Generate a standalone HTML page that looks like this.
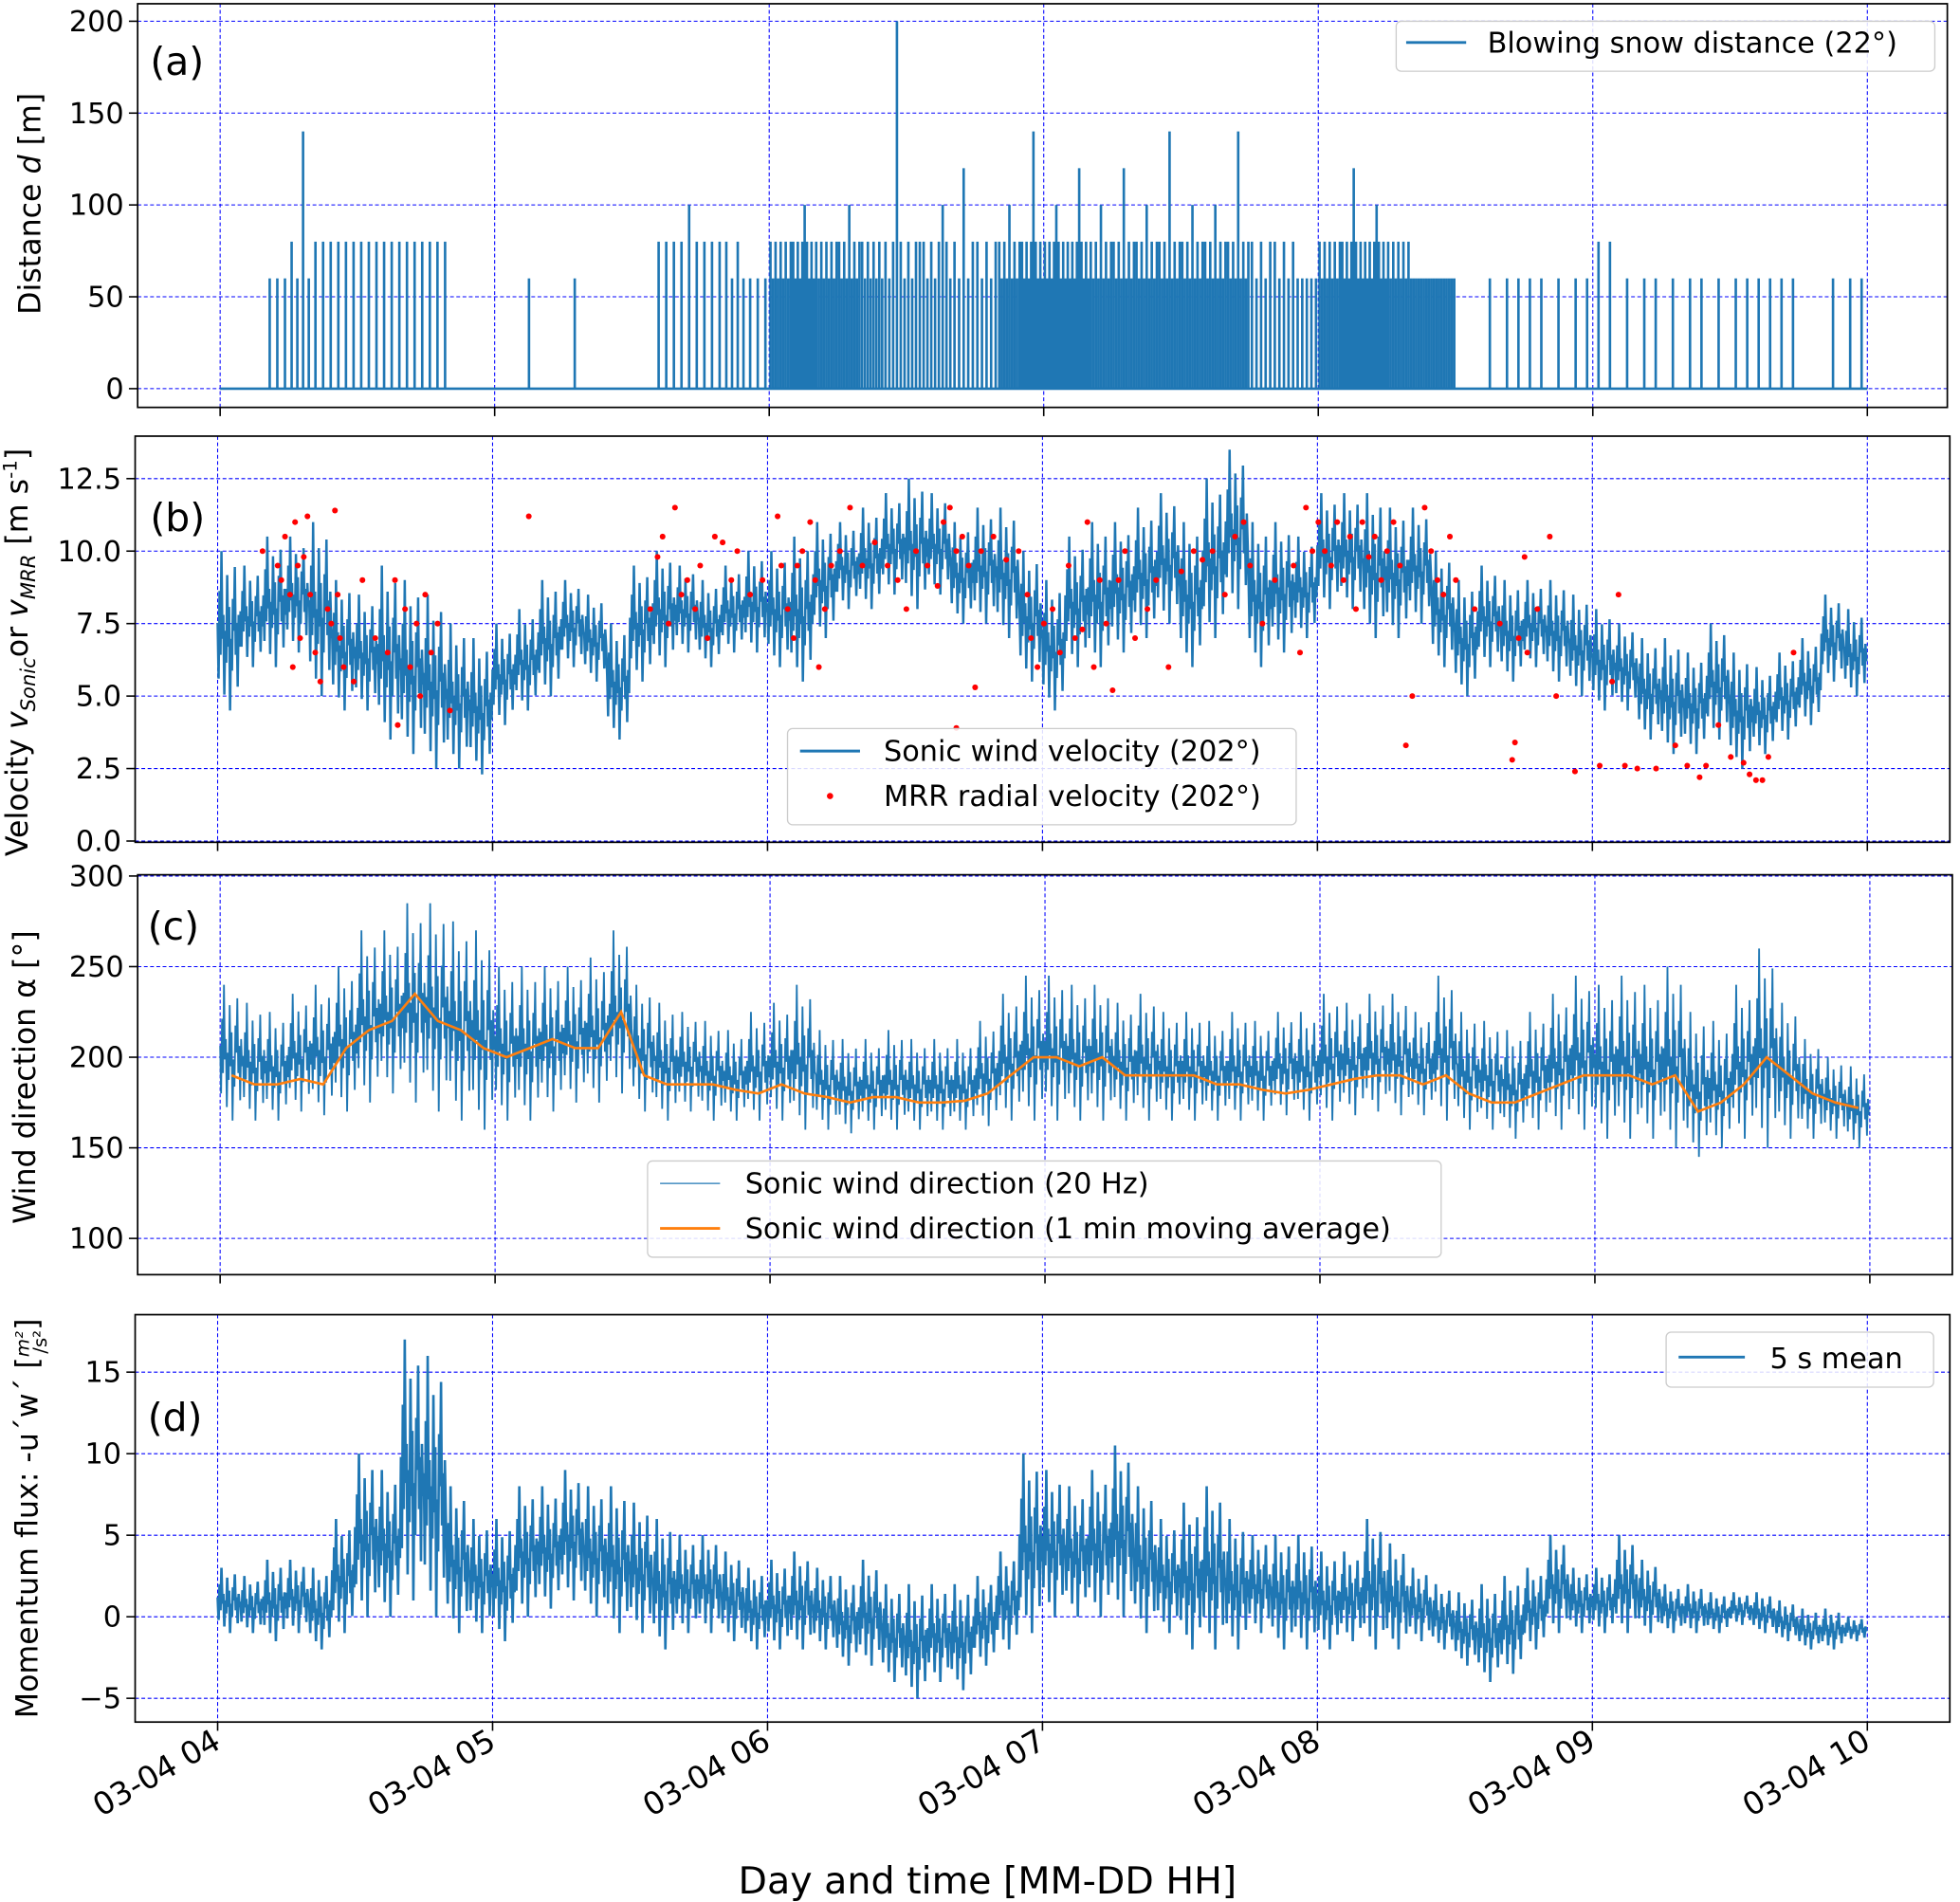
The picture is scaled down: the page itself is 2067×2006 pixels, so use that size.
<!DOCTYPE html>
<html><head><meta charset="utf-8">
<style>
html,body{margin:0;padding:0;background:#fff;}
svg{display:block;font-family:"DejaVu Sans","Liberation Sans",sans-serif;}
</style></head>
<body>
<svg id="fig" width="2067" height="2006" viewBox="0 0 1568 1522" xmlns="http://www.w3.org/2000/svg"></svg>
<script>
// ---------- DATA (5-minute bins from 03-04 04:00 to 10:00) ----------
const hourLabels = ["03-04 04","03-04 05","03-04 06","03-04 07","03-04 08","03-04 09","03-04 10"];
const distTicks = [0,50,100,150,200];
const velTicks = [0.0,2.5,5.0,7.5,10.0,12.5];
const dirTicks = [100,150,200,250,300];
const fluxTicks = [-5,0,5,10,15];

// (a) blowing snow distance: max per bin and number of detections
const distMax = [0,0,60,140,80,80,80,80,80,80,0,0,0,60,0,60,0,0,0,80,100,80,80,60,80,100,80,100,80,200,80,100,120,80,100,140,100,120,100,120,100,140,100,100,140,80,80,60,80,120,100,80,60,60,0,60,60,60,60,60,80,60,60,60,60,60,60,60,60,0,60,60];
const distCount = [0,0,3,4,3,3,3,3,3,3,0,0,0,1,0,1,0,0,0,3,3,3,4,3,9,10,9,9,8,6,6,6,5,5,9,10,10,10,9,9,9,9,9,9,9,5,5,5,9,10,10,9,9,9,0,1,2,2,1,2,2,1,2,1,2,1,2,2,2,0,1,2];

// (b) sonic wind velocity low/high per bin
const velLo = [4.5,6,6,6.5,5,4.5,4.5,3.5,3,2.5,2.5,2.3,4,4.5,5,6,5.5,3.5,5.5,6,6.5,6,6.5,6.5,6,5.5,7,8,8,8.5,8,8.5,7.5,7.5,7,5.5,4.5,6,6,6.5,7,7.5,6,7,8,6,6.5,7,8,8,7,7,7.5,6,5,6,5.5,6,5.5,5,4.5,4.5,3.5,3,3,3.5,2.5,3,3.5,4,5.5,5];
const velHi = [10,9.5,10.5,10.5,11,9,8.5,9.5,9,8.5,7.5,7,7.5,8,9,9,8.5,7.5,9.5,10,9.5,9,9.5,10,10,10.5,11,11,11.5,12,12.5,12,11,11.5,11.5,10,9,10.5,11,11,11.5,12,11,12.5,13.5,11,11,10.5,12,12,12,11.5,11.5,10,9,9.5,9,9,9,8.5,8,7.5,7,7,6.5,7.5,6.5,6,6.5,7,8.5,8];
// MRR radial velocity points: minutes after 04:00, value
const mrrMin = [9.8,13.1,13.9,14.7,15.8,16.4,16.9,17.5,18,18.8,19.6,20.2,21.3,22.4,24,24.8,25.6,26.2,26.7,27.5,29.7,31.6,34.4,37.1,38.7,39.3,40.9,42,43.4,44.2,45.3,46.6,48,50.7,67.9,94.4,96,97.1,98.4,99.8,101.2,102.5,104.2,105.3,106.9,108.5,110.2,112.1,113.4,116.2,118.9,122.2,123,124.4,125.7,126.5,127.6,129.3,130.4,131.2,132.5,133.9,135.8,138,140.7,143.4,146.2,148.4,150.3,152.4,154.9,157.1,158.4,159.8,161.2,162.5,163.9,165.3,166.6,169.3,172.1,174.8,176.7,177.5,178.9,180.3,182.2,183.8,185.7,187.1,188.7,189.8,191.2,192.5,193.9,195.3,196.6,198,200.2,202.9,204.8,207.5,210.3,213,214.9,217.1,219.8,222,223.9,225.3,228,230.7,234.8,236.2,237.5,238.9,240.2,241.6,243,244.3,245.7,247.1,248.4,249.8,251.2,252.5,253.9,255.2,256.6,258,259.3,260.7,263.4,264.8,266.2,267.5,268.9,270.2,274.3,279.8,282.5,283.9,285.2,285.8,288,290.7,292.1,296.2,301.6,304.3,305.7,307.1,309.8,313.9,318.1,320.7,323.4,324.8,327.5,330.2,333,334.3,335.7,337.1,338.4,343.9,161.2,283.1];
const mrrVal = [10,9.5,9,10.5,8.5,6,11,9.5,7,9.8,11.2,8.5,6.5,5.5,8,7.5,11.4,8.5,7,6,5.5,9,7,6.5,9,4,8,6,7.5,5,8.5,6.5,7.5,4.5,11.2,8,9.8,10.5,7.5,11.5,8.5,9,8,9.5,7,10.5,10.3,9,10,8.5,9,11.2,9.5,8,7,9.5,10,11,9,6,8,9.5,10,11.5,9.5,10.3,9.5,9,8,10,9.5,8.8,11,11.5,10,10.5,9.5,5.3,10,10.5,9.7,10,8.5,7,6,7.5,8,6.5,9.5,7,7.3,11,6,9,7.5,5.2,9,10,7,8,9,6,9.3,10,9.7,10,8.5,10.5,11,9.5,7.5,9,9.5,6.5,11.5,10,11,10,9.5,11,9,10.5,8,11,9.8,10.5,9,10,11,9.5,3.3,5,11.5,10,9,8.5,10.5,9,8,7.5,2.8,7,9.8,6.5,8,10.5,5,2.4,2.6,5.5,8.5,2.6,2.5,2.5,3.3,2.6,2.2,2.6,4,2.9,2.7,2.3,2.1,2.1,2.9,6.5,3.9,3.4];

// (c) wind direction low/high (20 Hz) and 1-min moving average per bin
const dirLo = [165,165,165,170,168,170,175,180,175,170,165,160,165,165,170,175,175,180,170,165,170,165,165,165,165,160,160,158,160,160,160,160,160,162,165,165,165,165,165,165,165,165,165,165,165,165,168,165,165,168,170,168,168,165,160,160,155,160,160,160,155,155,155,150,145,150,155,150,155,155,155,150];
const dirHi = [240,230,225,235,240,250,270,270,285,285,275,270,250,250,250,250,255,270,240,230,225,220,215,225,230,240,215,210,210,215,210,210,210,220,235,245,245,240,240,230,235,225,225,220,225,220,225,225,235,230,235,235,225,245,225,220,215,225,235,245,240,245,240,250,225,220,240,260,230,210,200,195];
const dirAvg = [190,185,185,188,185,205,215,220,235,220,215,205,200,205,210,205,205,225,190,185,185,185,182,180,185,180,178,175,178,178,175,175,176,180,190,200,200,195,200,190,190,190,190,185,185,182,180,182,185,188,190,190,185,190,180,175,175,180,185,190,190,190,185,190,170,175,185,200,190,180,175,172];

// (d) momentum flux low/high per bin
const fluxLo = [-1,-1,-1.5,-1,-2,-1,0,0,1,0,-1,-1,-1.5,0,0.5,1,0,-1,-1,-2,-1,-1,-1.5,-2,-2,-2,-2,-3,-3,-4,-5,-4,-4.5,-3,-2,-1,0,0,0,0,-1,-1,-2,-2,-2,-1,-2,-2,-2,-1.5,-2,-2,-1.5,-2,-3,-4,-3.5,-2,-1,-1,-1,-1,-1,-1,-1,-1,-0.5,-1,-1.5,-2,-2,-1.5];
const fluxHi = [3,2.5,3.5,3.5,3,6,10,9,17,16,8,6,6,8,8,9,8,8,7,6,5,5,4,3,3.5,4,3,2.5,3.5,2,2,2,2,2.5,4,10,9,8,9,10.5,8,6,7,8,6,5,5,5,4,4,6,4.5,3,2,1.5,2,2.5,3,5,3,3,5,3.5,2,2,1.5,1.5,1.5,1,0.5,0.5,0];

// ---------- RENDERING ----------
const NS = "http://www.w3.org/2000/svg";
const svg = document.getElementById('fig');
const BLUE = "#1f77b4";
// within-bin texture (style, not data)
const zig = [0.55,0.2,0.75,0.35,1,0.45,0.6,0.1,0.5,0.3,0.85,0.4,0.65,0,0.45,0.25,0.7,0.5,0.9,0.35,0.55,0.15,0.6,0.4];
function mk(tag, attrs, parent){const e=document.createElementNS(NS,tag);for(const k in attrs)e.setAttribute(k,attrs[k]);(parent||svg).appendChild(e);return e;}

const panels = [
 {key:'a', box:[110,3,1558,326], x0:176,x1:1494, ymin:0,ymax:200, yTop:17,yBot:311, ticks:distTicks, fmt:v=>String(v)},
 {key:'b', box:[108,349,1560,674], x0:174,x1:1494, ymin:0,ymax:12.5, yTop:383,yBot:673, ticks:velTicks, fmt:v=>v.toFixed(1)},
 {key:'c', box:[110,700,1562,1020], x0:176,x1:1496, ymin:100,ymax:300, yTop:991,yBot:701, ticks:dirTicks, fmt:v=>String(v), inv:true},
 {key:'d', box:[108,1052,1560,1378], x0:174,x1:1494, ymin:-5,ymax:15, yTop:1098,yBot:1359, ticks:fluxTicks, fmt:v=>v<0?"\u2212"+Math.abs(v):String(v)}
];
panels.forEach(p=>{
  p.xs = m => p.x0 + (p.x1-p.x0)*m/360;
  if(p.inv){ p.ys = v => p.yTop + (p.yBot-p.yTop)*(v-p.ymin)/(p.ymax-p.ymin); }
  else { p.ys = v => p.yBot - (p.yBot-p.yTop)*(v-p.ymin)/(p.ymax-p.ymin); }
});

function drawAxes(p){
  const [l,t,r,b]=p.box;
  const g=mk('g',{});
  
  
  hourLabels.forEach((h,i)=>{
    const x=p.xs(i*60);
    const gl=mk('line',{x1:x,x2:x,y1:t,y2:b,stroke:'#0000ff','stroke-width':0.8,'stroke-dasharray':'3,2'},g);
    
    
    mk('line',{x1:x,x2:x,y1:b,y2:b+7,stroke:'#000','stroke-width':1.2},g);
  });
  p.ticks.forEach(v=>{
    const y=p.ys(v);
    const gl=mk('line',{x1:l,x2:r,y1:y,y2:y,stroke:'#0000ff','stroke-width':0.8,'stroke-dasharray':'3,2'},g);
    
    
    mk('line',{x1:l-7,x2:l,y1:y,y2:y,stroke:'#000','stroke-width':1.2},g);
    const tx=mk('text',{x:l-11,y:y+8,'text-anchor':'end','font-size':23},g);
    tx.textContent=p.fmt(v);
    
    
  });
  p.g=g;
  return g;
}
function frame(p){
  const [l,t,r,b]=p.box;
  const f=mk('rect',{x:l,y:t,width:r-l,height:b-t,fill:'none',stroke:'#000','stroke-width':1.3});
  
  
}
function bandPath(p, lo, hi){
  let d='';
  const bw=5;
  for(let i=0;i<lo.length;i++){
    for(let k=0;k<zig.length;k++){
      const m=i*bw + bw*k/zig.length;
      const v=lo[i]+(hi[i]-lo[i])*zig[k];
      d+=(d?'L':'M')+p.xs(m).toFixed(2)+','+p.ys(v).toFixed(2);
    }
  }
  return d;
}

// Panel a
const pa=panels[0]; drawAxes(pa);
{
  let d='M'+pa.xs(0)+','+pa.ys(0)+'L'+pa.xs(360)+','+pa.ys(0);
  for(let i=0;i<distMax.length;i++){
    const n=distCount[i];
    for(let k=0;k<n;k++){
      const m=i*5+5*(k+0.5)/n;
      const v=(k===Math.floor(n/2))?distMax[i]:Math.min(k%2?60:80,distMax[i]);
      const x=pa.xs(m).toFixed(2);
      d+='M'+x+','+pa.ys(0)+'L'+x+','+pa.ys(v).toFixed(2);
    }
  }
  const s=mk('path',{d:d,fill:'none',stroke:BLUE,'stroke-width':2},pa.g);
  
  
}
frame(pa);

// Panel b
const pb=panels[1]; drawAxes(pb);
{
  const s=mk('path',{d:bandPath(pb,velLo,velHi),fill:'none',stroke:BLUE,'stroke-width':1.9},pb.g);
  
  
  for(let i=0;i<mrrMin.length;i++){
    const c=mk('circle',{cx:pb.xs(mrrMin[i]),cy:pb.ys(mrrVal[i]),r:2.3,fill:'#ff0000'},pb.g);
    
    
  }
}
frame(pb);

// Panel c
const pc=panels[2]; drawAxes(pc);
{
  const s=mk('path',{d:bandPath(pc,dirLo,dirHi),fill:'none',stroke:BLUE,'stroke-width':1.4},pc.g);
  
  
  let d='';
  for(let i=0;i<dirAvg.length;i++){d+=(d?'L':'M')+pc.xs(i*5+2.5).toFixed(2)+','+pc.ys(dirAvg[i]).toFixed(2);}
  const s2=mk('path',{d:d,fill:'none',stroke:'#ff7f0e','stroke-width':2},pc.g);
  
  
}
frame(pc);

// Panel d
const pd=panels[3]; drawAxes(pd);
{
  const s=mk('path',{d:bandPath(pd,fluxLo,fluxHi),fill:'none',stroke:BLUE,'stroke-width':2},pd.g);
  
  
}
frame(pd);

// x tick labels (bottom)
hourLabels.forEach((h,i)=>{
  const x=pd.xs(i*60)+4, y=1398;
  const t=mk('text',{x:x,y:y,'text-anchor':'end','font-size':25,transform:`rotate(-30 ${x} ${y})`});
  t.textContent=h;
  
  
});
</script>
<script>
(function(){
const NS="http://www.w3.org/2000/svg";const svg=document.getElementById('fig');
function add(html){const g=document.createElementNS(NS,'g');g.innerHTML=html;svg.appendChild(g);}
add(`
<text x="790" y="1515" text-anchor="middle" font-size="30">Day and time [MM-DD HH]</text>
<text x="120" y="60" font-size="31">(a)</text>
<text x="120" y="425" font-size="31">(b)</text>
<text x="118" y="752" font-size="31">(c)</text>
<text x="118" y="1145" font-size="31">(d)</text>
<text transform="translate(32,163) rotate(-90)" text-anchor="middle" font-size="24">Distance <tspan font-style="italic">d</tspan>  [m]</text>
<text transform="translate(22,522) rotate(-90)" text-anchor="middle" font-size="24">Velocity  <tspan font-style="italic">v</tspan><tspan font-style="italic" font-size="16" dy="6">Sonic</tspan><tspan dy="-6">or  </tspan><tspan font-style="italic">v</tspan><tspan font-style="italic" font-size="16" dy="6">MRR</tspan><tspan dy="-6"> [m s</tspan><tspan font-size="15" dy="-9">-1</tspan><tspan dy="9">]</tspan></text>
<text transform="translate(28,862) rotate(-90)" text-anchor="middle" font-size="24">Wind direction  α [°]</text>
<text transform="translate(30,1215) rotate(-90)" text-anchor="middle" font-size="24">Momentum flux:  -u´w´ [<tspan font-style="italic" font-size="15" dy="-7">m²</tspan><tspan font-size="15" dx="-18" dy="14">/s²</tspan><tspan dy="-7">]</tspan></text>

<g>
<rect x="1117" y="17" width="431" height="40" rx="4" fill="#fff" fill-opacity="0.85" stroke="#ccc"/>
<line x1="1125" x2="1173" y1="34" y2="34" stroke="#1f77b4" stroke-width="2.2"/>
<text x="1190" y="42" font-size="23">Blowing snow distance (22°)</text>
</g>
<g>
<rect x="630" y="583" width="407" height="77" rx="4" fill="#fff" fill-opacity="0.85" stroke="#ccc"/>
<line x1="640" x2="688" y1="601" y2="601" stroke="#1f77b4" stroke-width="2.2"/>
<text x="707" y="609" font-size="23">Sonic wind velocity (202°)</text>
<circle cx="664" cy="637" r="2.5" fill="#ff0000"/>
<text x="707" y="645" font-size="23">MRR radial velocity (202°)</text>
</g>
<g>
<rect x="518" y="929" width="635" height="77" rx="4" fill="#fff" fill-opacity="0.85" stroke="#ccc"/>
<line x1="528" x2="576" y1="947" y2="947" stroke="#1f77b4" stroke-width="1"/>
<text x="596" y="955" font-size="23">Sonic wind direction (20 Hz)</text>
<line x1="528" x2="576" y1="983" y2="983" stroke="#ff7f0e" stroke-width="2.2"/>
<text x="596" y="991" font-size="23">Sonic wind direction (1 min moving average)</text>
</g>
<g>
<rect x="1333" y="1066" width="214" height="44" rx="4" fill="#fff" fill-opacity="0.85" stroke="#ccc"/>
<line x1="1343" x2="1396" y1="1086" y2="1086" stroke="#1f77b4" stroke-width="2.2"/>
<text x="1416" y="1095" font-size="23">5 s mean</text>
</g>`);
})();
</script>
</body></html>
